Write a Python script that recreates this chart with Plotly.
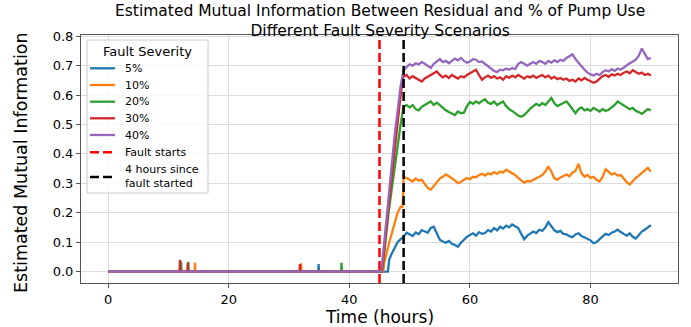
import numpy as np
import plotly.graph_objects as go

SEVERITY = ["5%", "10%", "20%", "30%", "40%"]
COLORS = ["#1f77b4", "#ff7f0e", "#2ca02c", "#d62728", "#9467bd"]
FAULT_START = 45
FAULT_PLUS4 = 49
X_TICKS = [0, 20, 40, 60, 80]
Y_TICKS = [0.0, 0.1, 0.2, 0.3, 0.4, 0.5, 0.6, 0.7, 0.8]
TITLE = "Estimated Mutual Information Between Residual and % of Pump Use<br>Different Fault Severity Scenarios"
LEGEND_TITLE = "Fault Severity"
X_LABEL = "Time (hours)"
Y_LABEL = "Estimated Mutual Information"

# early part (baseline blips before fault + ramp after fault)
early_t_5 = [0, 34.85, 34.9, 34.95, 46.4, 46.6, 47.0, 47.5, 48.0, 48.5]
early_v_5 = [0, 0, 0.025, 0, 0, 0.04, 0.06, 0.08, 0.10, 0.11]
early_t_10 = [0, 14.35, 14.4, 14.45, 31.95, 32.0, 32.05, 45.6, 45.8, 46.5, 47.0, 47.5, 48.0, 48.5, 48.8, 48.9]
early_v_10 = [0, 0, 0.03, 0, 0, 0.028, 0, 0, 0.03, 0.09, 0.13, 0.17, 0.20, 0.22, 0.22, 0.25]
early_t_20 = [0, 12.05, 12.1, 12.15, 13.25, 13.3, 13.35, 38.65, 38.7, 38.75, 45.4, 45.6, 46.5, 47.5, 48.5, 48.9]
early_v_20 = [0, 0, 0.035, 0, 0, 0.033, 0, 0, 0.03, 0, 0, 0.03, 0.20, 0.36, 0.50, 0.55]
early_t_30 = [0, 11.85, 11.9, 11.95, 13.15, 13.2, 13.25, 31.75, 31.8, 31.85, 45.4, 45.6, 46.5, 47.5, 48.5, 48.9]
early_v_30 = [0, 0, 0.04, 0, 0, 0.03, 0, 0, 0.025, 0, 0, 0.035, 0.22, 0.42, 0.60, 0.66]
early_t_40 = [0, 45.3, 45.5, 46.5, 47.5, 48.5, 48.9]
early_v_40 = [0, 0, 0.04, 0.26, 0.46, 0.63, 0.68]

# post-fault readings every half hour from 49 h to 90 h
post_t = np.arange(49.0, 90.001, 0.5)

mi_5 = [0.118, 0.132, 0.126, 0.121, 0.133, 0.127, 0.141, 0.136, 0.132, 0.148,
        0.152, 0.130, 0.108, 0.102, 0.098, 0.104, 0.094, 0.090, 0.084, 0.098,
        0.108, 0.118, 0.124, 0.130, 0.122, 0.134, 0.128, 0.131, 0.141, 0.136,
        0.148, 0.140, 0.152, 0.146, 0.156, 0.150, 0.160, 0.153, 0.148, 0.128,
        0.110, 0.122, 0.130, 0.136, 0.131, 0.142, 0.138, 0.150, 0.168, 0.152,
        0.140, 0.134, 0.138, 0.128, 0.126, 0.120, 0.117, 0.126, 0.130, 0.121,
        0.116, 0.110, 0.106, 0.096, 0.100, 0.110, 0.120, 0.128, 0.124, 0.132,
        0.136, 0.142, 0.134, 0.128, 0.122, 0.130, 0.118, 0.112, 0.126, 0.136,
        0.142, 0.150, 0.158]
mi_10 = [0.322, 0.318, 0.312, 0.306, 0.316, 0.309, 0.312, 0.298, 0.284, 0.278,
         0.292, 0.305, 0.316, 0.322, 0.330, 0.324, 0.318, 0.310, 0.300, 0.304,
         0.312, 0.318, 0.314, 0.322, 0.320, 0.328, 0.332, 0.326, 0.334, 0.330,
         0.338, 0.332, 0.340, 0.336, 0.346, 0.340, 0.334, 0.328, 0.318, 0.310,
         0.302, 0.308, 0.306, 0.312, 0.316, 0.322, 0.328, 0.340, 0.358, 0.340,
         0.316, 0.312, 0.320, 0.326, 0.330, 0.324, 0.336, 0.342, 0.366, 0.334,
         0.322, 0.328, 0.318, 0.322, 0.312, 0.306, 0.322, 0.348, 0.338, 0.330,
         0.334, 0.326, 0.328, 0.316, 0.304, 0.296, 0.308, 0.318, 0.326, 0.334,
         0.344, 0.352, 0.340]
mi_20 = [0.560, 0.566, 0.558, 0.566, 0.552, 0.548, 0.560, 0.566, 0.572, 0.578,
         0.566, 0.574, 0.566, 0.556, 0.548, 0.542, 0.536, 0.532, 0.544, 0.538,
         0.540, 0.562, 0.576, 0.570, 0.578, 0.572, 0.580, 0.586, 0.574, 0.570,
         0.578, 0.566, 0.572, 0.578, 0.562, 0.552, 0.546, 0.538, 0.530, 0.526,
         0.532, 0.542, 0.554, 0.562, 0.570, 0.564, 0.572, 0.566, 0.578, 0.590,
         0.572, 0.562, 0.568, 0.574, 0.578, 0.566, 0.550, 0.538, 0.552, 0.558,
         0.548, 0.552, 0.546, 0.556, 0.550, 0.544, 0.552, 0.546, 0.550, 0.558,
         0.566, 0.578, 0.572, 0.564, 0.558, 0.552, 0.556, 0.546, 0.542, 0.536,
         0.544, 0.552, 0.548]
mi_30 = [0.662, 0.668, 0.656, 0.664, 0.658, 0.652, 0.646, 0.656, 0.662, 0.670,
         0.676, 0.680, 0.668, 0.660, 0.666, 0.658, 0.668, 0.662, 0.656, 0.664,
         0.660, 0.668, 0.674, 0.680, 0.686, 0.668, 0.652, 0.660, 0.666, 0.658,
         0.664, 0.656, 0.660, 0.652, 0.664, 0.658, 0.666, 0.660, 0.668, 0.662,
         0.656, 0.664, 0.660, 0.666, 0.658, 0.664, 0.668, 0.660, 0.666, 0.656,
         0.662, 0.654, 0.658, 0.652, 0.656, 0.648, 0.652, 0.646, 0.656, 0.650,
         0.658, 0.652, 0.648, 0.642, 0.646, 0.656, 0.664, 0.668, 0.662, 0.670,
         0.666, 0.672, 0.668, 0.676, 0.680, 0.674, 0.684, 0.678, 0.672, 0.676,
         0.668, 0.672, 0.666]
mi_40 = [0.684, 0.696, 0.704, 0.700, 0.708, 0.704, 0.712, 0.706, 0.698, 0.692,
         0.706, 0.714, 0.722, 0.712, 0.716, 0.708, 0.716, 0.724, 0.718, 0.726,
         0.716, 0.710, 0.714, 0.722, 0.720, 0.712, 0.714, 0.706, 0.696, 0.688,
         0.682, 0.678, 0.686, 0.684, 0.690, 0.686, 0.692, 0.688, 0.706, 0.712,
         0.706, 0.700, 0.706, 0.712, 0.706, 0.716, 0.712, 0.706, 0.716, 0.710,
         0.718, 0.712, 0.720, 0.716, 0.726, 0.732, 0.738, 0.722, 0.708, 0.698,
         0.686, 0.676, 0.670, 0.666, 0.672, 0.668, 0.678, 0.684, 0.680, 0.688,
         0.682, 0.690, 0.686, 0.694, 0.700, 0.708, 0.714, 0.720, 0.734, 0.758,
         0.740, 0.722, 0.726]

early_t = [early_t_5, early_t_10, early_t_20, early_t_30, early_t_40]
early_v = [early_v_5, early_v_10, early_v_20, early_v_30, early_v_40]
post_v = [mi_5, mi_10, mi_20, mi_30, mi_40]

FONT = "DejaVu Sans"
W, H = 691, 327
ML, MR, MT, MB = 81, 13, 35, 44
PW, PH = W - ML - MR, H - MT - MB


def px(x):  # pixel x -> paper x
    return (x - ML) / PW


def py(y):  # pixel y -> paper y
    return (H - MB - y) / PH


fig = go.Figure()
for name, color, et, ev, pv in zip(SEVERITY, COLORS, early_t, early_v, post_v):
    fig.add_trace(go.Scatter(
        x=list(et) + list(post_t), y=list(ev) + list(pv),
        mode="lines", name=name, line=dict(color=color, width=2.3),
        showlegend=False,
    ))

DASH = "9px,4px"
fig.add_vline(x=FAULT_START, line=dict(color="red", dash=DASH, width=2.5), layer="above")
fig.add_vline(x=FAULT_PLUS4, line=dict(color="black", dash=DASH, width=2.5), layer="above")

# ---- hand-built legend (matplotlib-like compact spacing) ----
shapes_legend = []
annots = []
box = dict(type="rect", xref="paper", yref="paper",
           x0=px(87), x1=px(208), y0=py(193), y1=py(40),
           line=dict(color="#cccccc", width=1), fillcolor="rgba(255,255,255,0.8)",
           layer="above")
shapes_legend.append(box)
annots.append(dict(text=LEGEND_TITLE, xref="paper", yref="paper", x=px(147.5), y=py(51),
                   xanchor="center", yanchor="middle", showarrow=False,
                   font=dict(family=FONT, size=13, color="black")))
leg_labels = SEVERITY + ["Fault starts"]
leg_colors = COLORS + ["red"]
leg_rows = [68.3, 85, 101.7, 118.3, 135, 152.3]
for i, (lab, col, ry) in enumerate(zip(leg_labels, leg_colors, leg_rows)):
    shapes_legend.append(dict(type="line", xref="paper", yref="paper",
                              x0=px(90), x1=px(115), y0=py(ry), y1=py(ry),
                              line=dict(color=col, width=2.5 if i == 5 else 2.3,
                                        dash=DASH if i == 5 else "solid"),
                              layer="above"))
    annots.append(dict(text=lab, xref="paper", yref="paper", x=px(123), y=py(ry),
                       xanchor="left", yanchor="middle", showarrow=False,
                       font=dict(family=FONT, size=11, color="black")))
shapes_legend.append(dict(type="line", xref="paper", yref="paper",
                          x0=px(90), x1=px(115), y0=py(177), y1=py(177),
                          line=dict(color="black", width=2.5, dash=DASH), layer="above"))
annots.append(dict(text="4 hours since<br>fault started", xref="paper", yref="paper",
                   x=px(123), y=py(177), xanchor="left", yanchor="middle", align="left",
                   showarrow=False, font=dict(family=FONT, size=11, color="black")))

# ---- title (two lines) and axis titles ----
annots.append(dict(text=TITLE, xref="paper", yref="paper", x=0.5, y=py(20.5),
                   xanchor="center", yanchor="middle", showarrow=False, borderpad=0,
                   font=dict(family=FONT, size=15.5, color="black")))
annots.append(dict(text=X_LABEL, xref="paper", yref="paper", x=0.5, y=py(316.5),
                   xanchor="center", yanchor="middle", showarrow=False, borderpad=0,
                   font=dict(family=FONT, size=17, color="black")))
annots.append(dict(text=Y_LABEL, xref="paper", yref="paper", x=px(21), y=py(163),
                   xanchor="center", yanchor="middle", showarrow=False, borderpad=0,
                   textangle=-90, font=dict(family=FONT, size=17.5, color="black")))

for s in shapes_legend:
    fig.add_shape(**s)
for a in annots:
    fig.add_annotation(**a)

axis_common = dict(
    showgrid=True, gridcolor="#dcdcdc", gridwidth=1,
    showline=True, linecolor="#555555", linewidth=1, mirror=True,
    ticks="outside", ticklen=4, tickcolor="#555555",
    tickfont=dict(family=FONT, size=13, color="black"),
    zeroline=False, automargin=False,
)

fig.update_layout(
    width=W, height=H,
    margin=dict(l=ML, r=MR, t=MT, b=MB, autoexpand=False),
    paper_bgcolor="white", plot_bgcolor="white",
    font=dict(family=FONT, color="black"),
    xaxis=dict(axis_common, range=[-4.5, 94.5], tickvals=X_TICKS),
    yaxis=dict(axis_common, range=[-0.039, 0.804], tickvals=Y_TICKS, tickformat=".1f"),
    showlegend=False,
)

fig.write_html("out.html")
